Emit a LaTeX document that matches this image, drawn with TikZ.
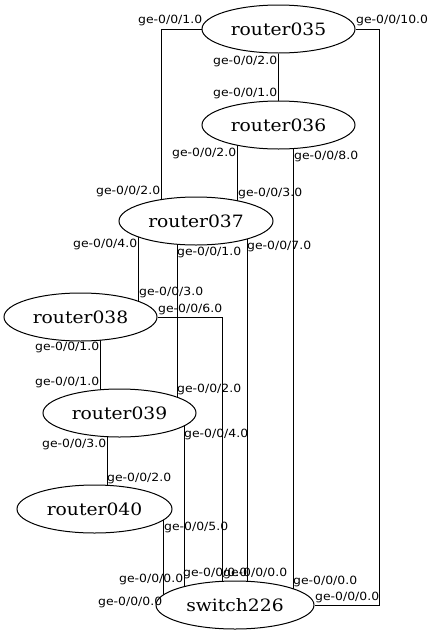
\documentclass[tikz,border=0pt]{standalone}
\usepackage{fontspec}
\newfontfamily\devfont[FakeStretch=1.1]{DejaVu Serif}
\newfontfamily\portfont[FakeStretch=1.1]{DejaVu Sans}
\usetikzlibrary{shapes.geometric}
\pgfdeclarelayer{background}
\pgfsetlayers{background,main}

\tikzset{
  dev/.style={ellipse, draw, fill=white, line width=1pt, inner sep=0pt,
    minimum width=153pt, minimum height=48pt,
    font=\devfont\fontsize{17}{17}\selectfont},
  port/.style={anchor=west, inner sep=0pt,
    font=\portfont\fontsize{11.3}{11.3}\selectfont},
  link/.style={line width=1pt}
}

\begin{document}
\begin{tikzpicture}[x=1pt, y=-1pt]
\useasboundingbox (0,0) rectangle (434,635);

% devices
\node[dev] (r35) at (278.5,29) {router035};
\node[dev] (r36) at (278.5,125) {router036};
\node[dev, minimum width=154pt] (r37) at (196,221) {router037};
\node[dev] (r38) at (80.5,317) {router038};
\node[dev] (r39) at (119.5,413) {router039};
\node[dev, minimum width=155pt] (r40) at (94.5,509) {router040};
\node[dev, minimum width=158pt] (sw) at (235,605) {switch226};

% links, drawn under the devices
\begin{pgfonlayer}{background}
\draw[link] (r35.west) -| ([xshift=-35pt]r37.center);
\draw[link] (r35) -- (r36);
\draw[link] (r35.east) -- ++(24pt,0) |- (sw.east);
\draw[link] ([xshift=-41.5pt]r36.center) -- ([xshift=41pt]r37.center);
\draw[link] ([xshift=14.5pt]r36.center) -- ([xshift=58pt]sw.center);
\draw[link] ([xshift=-58pt]r37.center) -- ([xshift=57.5pt]r38.center);
\draw[link] ([xshift=-19pt]r37.center) -- ([xshift=57.5pt]r39.center);
\draw[link] ([xshift=51pt]r37.center) -- ([xshift=12pt]sw.center);
\draw[link] (r38.east) -| ([xshift=-13pt]sw.center);
\draw[link] ([xshift=19.5pt]r38.center) -- ([xshift=-19.5pt]r39.center);
\draw[link] ([xshift=-12.5pt]r39.center) -- ([xshift=12.5pt]r40.center);
\draw[link] ([xshift=64.5pt]r39.center) -- ([xshift=-51pt]sw.center);
\draw[link] ([xshift=68.5pt]r40.center) -- ([xshift=-72pt]sw.center);
\end{pgfonlayer}

% interface labels
\node[port] (p01) at (138,20) {ge-0/0/1.0};
\node[port] (p02) at (356,20) {ge-0/0/10.0};
\node[port] (p03) at (213,61) {ge-0/0/2.0};
\node[port] (p04) at (213,93) {ge-0/0/1.0};
\node[port] (p05) at (172,153) {ge-0/0/2.0};
\node[port] (p06) at (294,156) {ge-0/0/8.0};
\node[port] (p07) at (96,191) {ge-0/0/2.0};
\node[port] (p08) at (238,193) {ge-0/0/3.0};
\node[port] (p09) at (73,244) {ge-0/0/4.0};
\node[port] (p10) at (177,252) {ge-0/0/1.0};
\node[port] (p11) at (247,246) {ge-0/0/7.0};
\node[port] (p12) at (139,292) {ge-0/0/3.0};
\node[port] (p13) at (158,309) {ge-0/0/6.0};
\node[port] (p14) at (35,347) {ge-0/0/1.0};
\node[port] (p15) at (35,382) {ge-0/0/1.0};
\node[port] (p16) at (177,389) {ge-0/0/2.0};
\node[port] (p17) at (42,444) {ge-0/0/3.0};
\node[port] (p18) at (184,434) {ge-0/0/4.0};
\node[port] (p19) at (107,478) {ge-0/0/2.0};
\node[port] (p20) at (164,527) {ge-0/0/5.0};
\node[port] (p21) at (119,579) {ge-0/0/0.0};
\node[port] (p22) at (98,602) {ge-0/0/0.0};
\node[port] (p23) at (183,573) {ge-0/0/0.0};
\node[port] (p24) at (223,573) {ge-0/0/0.0};
\node[port] (p25) at (293,581) {ge-0/0/0.0};
\node[port] (p26) at (315,597) {ge-0/0/0.0};
\end{tikzpicture}
\end{document}
